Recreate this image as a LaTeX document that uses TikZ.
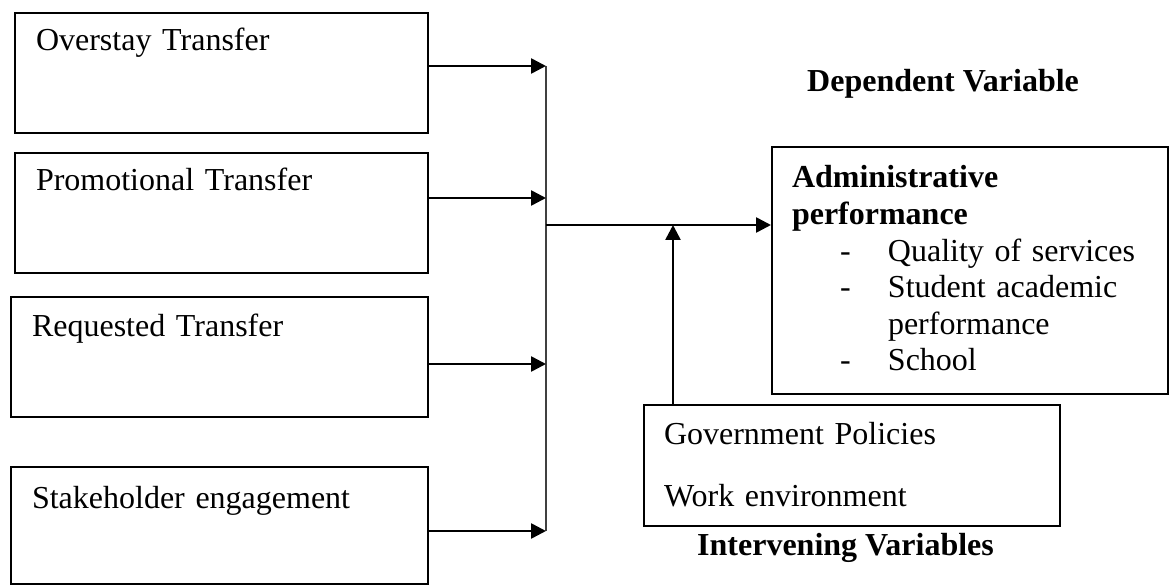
\documentclass[tikz,border=0pt]{standalone}
\usepackage{fontspec}
\setmainfont{Liberation Serif}
\usetikzlibrary{arrows.meta}
\newcommand{\dashitem}[1]{\makebox[96pt][l]{\hspace*{48pt}-}#1}

\begin{document}
\begin{tikzpicture}[x=1pt,y=-1pt,
	every node/.style={font=\fontsize{32}{36.6}\selectfont},
	varbox/.style={draw,line width=2pt,anchor=north west,align=left,inner ysep=0pt,inner xsep=21pt},
	heading/.style={font=\bfseries\fontsize{32}{36.6}\selectfont,anchor=base west,inner sep=0pt},
	arr/.style={line width=2.6pt,-{Triangle[length=15pt,width=15pt]}},
	bus/.style={line width=1.3pt,black!75}]
		\useasboundingbox (0,0) rectangle (1169,585);
		% independent variables
		\node[varbox,text width=371pt,text height=38pt,text depth=82pt] (ovs) at (14,12) {Overstay Transfer};
		\node[varbox,text width=371pt,text height=38pt,text depth=82pt] (pro) at (14,152) {Promotional Transfer};
		\node[varbox,text width=375pt,text height=39pt,text depth=81pt] (req) at (10,296) {Requested Transfer};
		\node[varbox,text width=375pt,text height=41pt,text depth=76pt] (stk) at (10,466) {Stakeholder engagement};
		% dependent and intervening
		\node[varbox,inner xsep=20pt,text width=356pt,text height=41pt,text depth=206pt] (adm) at (771,146)
			{\textbf{Administrative}\\\textbf{performance}\\\dashitem{Quality of services}\\\dashitem{Student academic}\\\hspace*{96pt}performance\\\dashitem{School}};
		\node[varbox,inner xsep=20pt,text width=376pt,text height=39pt,text depth=82pt] (gov) at (643,404)
			{Government Policies\\[25.4pt]Work environment};
		\node[heading] (dep) at (807,92) {Dependent Variable};
		\node[heading] (intv) at (697,555) {Intervening Variables};
		% joints
		\coordinate (j1) at (546,66);
		\coordinate (j2) at (546,198);
		\coordinate (j3) at (546,364);
		\coordinate (j4) at (546,531);
		\coordinate (jm) at (546,225);
		\coordinate (jg) at (673,225);
		\draw[bus] (j1) -- (j4);
		\foreach \b/\j in {ovs/j1,pro/j2,req/j3,stk/j4}
			\draw[arr] (\b.east |- \j) -- (\j);
		\draw[arr] (jm) -- (adm.west |- jm);
		\draw[arr] (gov.north -| jg) -- (jg);
\end{tikzpicture}
\end{document}
